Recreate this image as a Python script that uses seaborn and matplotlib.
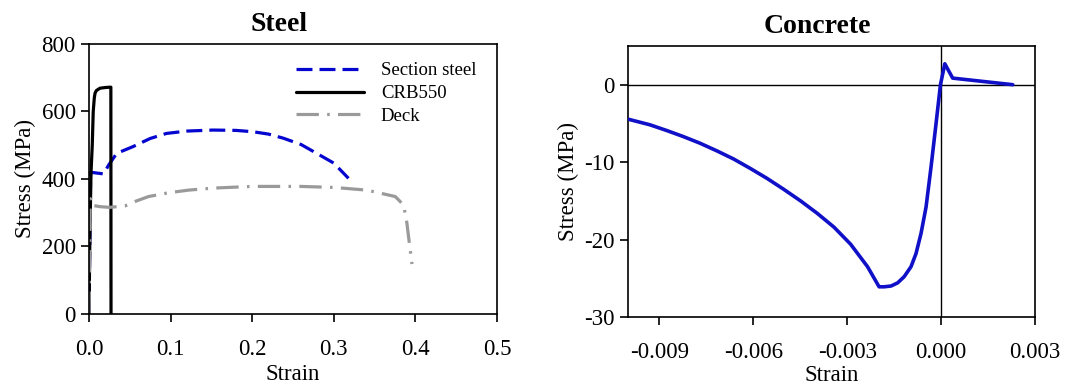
import numpy as np
import pandas as pd
import matplotlib
matplotlib.use("Agg")
import matplotlib.pyplot as plt
import seaborn as sns

# Steel stress-strain curves (strain, MPa)
section_strain = [0.0, 0.002, 0.018, 0.024, 0.034, 0.054, 0.075, 0.095, 0.12, 0.152,
                  0.18, 0.201, 0.22, 0.238, 0.26, 0.279, 0.300, 0.318]
section_stress = [0, 420, 415, 441, 476, 496, 520, 535, 542, 545,
                  544, 540, 533, 521, 502, 476, 447, 402]

crb_strain = [0.0, 0.0012, 0.0025, 0.004, 0.0052, 0.0065, 0.0074, 0.009, 0.0135,
              0.02, 0.0258, 0.0268, 0.0270]
crb_stress = [0, 250, 420, 500, 600, 640, 654, 662, 669, 671, 672, 672, 0]

deck_strain = [0.0, 0.0016, 0.004, 0.0135, 0.025, 0.044, 0.056, 0.073, 0.097, 0.122,
               0.152, 0.2, 0.259, 0.3, 0.3405, 0.3753, 0.3855, 0.3896, 0.3916, 0.3958]
deck_stress = [0, 342, 322, 318, 316, 320, 333, 348, 359, 367,
               373, 378, 378, 375, 367, 348, 323, 269, 229, 148]

# Concrete stress-strain curve (strain, MPa)
conc_strain = [-0.0100, -0.00930, -0.00877, -0.00824, -0.00770, -0.00716, -0.00663,
               -0.00610, -0.00556, -0.00503, -0.00449, -0.00396, -0.00342, -0.00289,
               -0.00235, -0.00198, -0.00182, -0.00160, -0.00139, -0.00118, -0.00096,
               -0.00080, -0.00064, -0.00048, -0.00032, -0.00016, -0.00002,
               0.00012, 0.00037, 0.00229]
conc_stress = [-4.45, -5.18, -5.91, -6.69, -7.56, -8.55, -9.59,
               -10.8, -12.1, -13.5, -15.0, -16.6, -18.4, -20.6,
               -23.5, -26.1, -26.1, -26.0, -25.6, -24.8, -23.5,
               -21.8, -19.2, -15.8, -10.6, -5.0, 0.0,
               2.7, 0.85, 0.0]

steel_xticks = [0.0, 0.1, 0.2, 0.3, 0.4, 0.5]
steel_yticks = [0, 200, 400, 600, 800]
conc_xticks = [-0.009, -0.006, -0.003, 0.000, 0.003]
conc_yticks = [0, -10, -20, -30]

sns.set_theme(style="ticks")
plt.rcParams["font.family"] = ["Liberation Serif", "DejaVu Serif"]
plt.rcParams["axes.unicode_minus"] = False
plt.rcParams["axes.linewidth"] = 1.2
plt.rcParams["xtick.major.width"] = 1.2
plt.rcParams["ytick.major.width"] = 1.2
plt.rcParams["xtick.major.size"] = 5.5
plt.rcParams["ytick.major.size"] = 5.5
plt.rcParams["xtick.major.pad"] = 12.5
plt.rcParams["ytick.major.pad"] = 4
plt.rcParams["xtick.labelsize"] = 16.5
plt.rcParams["ytick.labelsize"] = 16.5
plt.rcParams["xtick.color"] = "black"
plt.rcParams["ytick.color"] = "black"
plt.rcParams["xtick.labelcolor"] = "black"
plt.rcParams["ytick.labelcolor"] = "black"
plt.rcParams["axes.labelcolor"] = "black"
plt.rcParams["axes.titlecolor"] = "black"
plt.rcParams["text.color"] = "black"
plt.rcParams["axes.edgecolor"] = "black"
plt.rcParams["lines.solid_joinstyle"] = "round"

fig = plt.figure(figsize=(10.67, 3.9), dpi=100)
ax1 = fig.add_axes([0.0834, 0.1949, 0.3824, 0.6923])
ax2 = fig.add_axes([0.5886, 0.1872, 0.3814, 0.6949])

steel = pd.concat([
    pd.DataFrame({"Strain": section_strain, "Stress": section_stress, "Material": "Section steel"}),
    pd.DataFrame({"Strain": crb_strain, "Stress": crb_stress, "Material": "CRB550"}),
    pd.DataFrame({"Strain": deck_strain, "Stress": deck_stress, "Material": "Deck"}),
], ignore_index=True)

sns.lineplot(
    data=steel, x="Strain", y="Stress", hue="Material", style="Material",
    palette={"Section steel": "#0505d0", "CRB550": "black", "Deck": "#9a9a9a"},
    dashes={"Section steel": (5, 2.2), "CRB550": "", "Deck": (7, 2.6, 0.8, 2.6)},
    sort=False, estimator=None, linewidth=2.3, ax=ax1,
)
ax1.set_xlim(0, 0.5)
ax1.set_ylim(0, 800)
ax1.set_xticks(steel_xticks)
ax1.set_xticklabels([f"{t:.1f}" for t in steel_xticks])
ax1.set_yticks(steel_yticks)
ax1.set_xlabel("Strain", fontsize=16.5, labelpad=3)
ax1.set_ylabel("Stress (MPa)", fontsize=16.5, labelpad=4)
ax1.set_title("Steel", fontsize=20, fontweight="bold", x=0.466, pad=9)
leg = ax1.legend(loc="upper left", bbox_to_anchor=(0.49, 0.96), frameon=False,
                 fontsize=13.5, handlelength=3.6, handletextpad=0.9,
                 labelspacing=0.3, borderaxespad=0.0)
for line in leg.get_lines():
    line.set_linewidth(2.3)

concrete = pd.DataFrame({"Strain": conc_strain, "Stress": conc_stress})
ax2.axhline(0, color="black", linewidth=1.0, zorder=1)
ax2.axvline(0, color="black", linewidth=1.0, zorder=1)
sns.lineplot(data=concrete, x="Strain", y="Stress", color="#1010c8",
             sort=False, estimator=None, linewidth=2.6, ax=ax2, zorder=3)
ax2.set_xlim(-0.01, 0.003)
ax2.set_ylim(-30, 5)
ax2.set_xticks(conc_xticks)
ax2.set_xticklabels([f"{t:.3f}" for t in conc_xticks])
ax2.set_yticks(conc_yticks)
ax2.set_xlabel("Strain", fontsize=16.5, labelpad=1.5)
ax2.set_ylabel("Stress (MPa)", fontsize=16.5, labelpad=4)
ax2.set_title("Concrete", fontsize=20, fontweight="bold", x=0.466, pad=9)

for ax in (ax1, ax2):
    for s in ax.spines.values():
        s.set_visible(True)
        s.set_color("black")
        s.set_linewidth(1.2)
    ax.tick_params(direction="out", top=False, right=False)

fig.savefig("out.png", dpi=100)
